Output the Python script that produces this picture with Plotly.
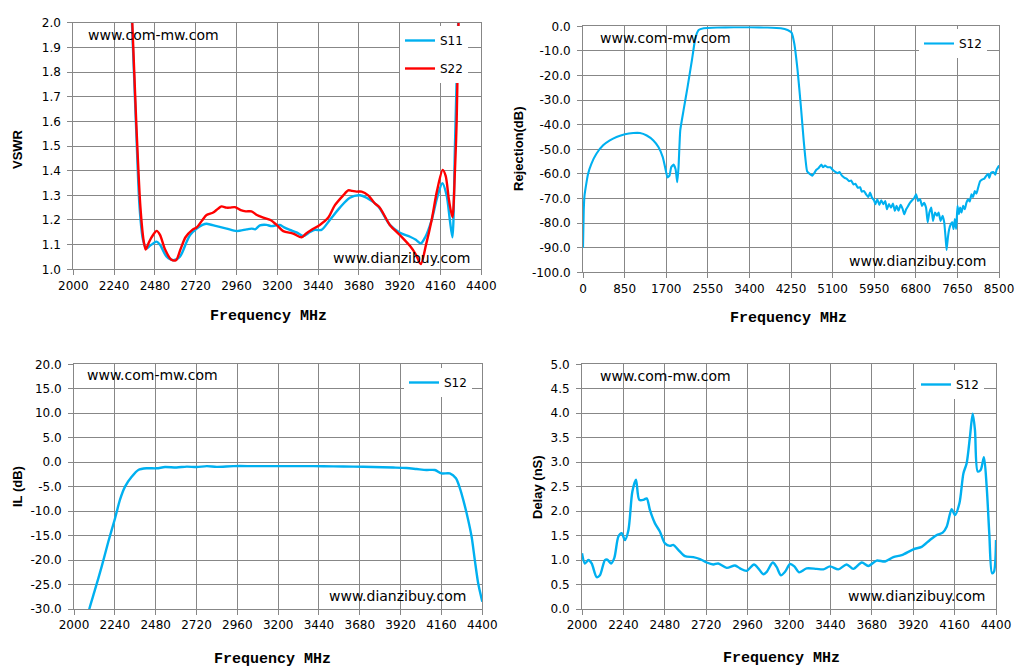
import plotly.graph_objects as go

# ---------------- data ----------------
# Top-left: VSWR
vswr_s11_f = [2330, 2345, 2368, 2390, 2410, 2430, 2450, 2470, 2490, 2510, 2549, 2588, 2627, 2667, 2687,
              2726, 2760, 2784, 2843, 2902, 2961, 3020, 3050, 3070, 3098, 3137, 3166, 3215, 3240, 3274,
              3313, 3352, 3390, 3421, 3460, 3509, 3568, 3627, 3686, 3725, 3794, 3862, 3922, 3981, 4015,
              4044, 4070, 4108, 4140, 4171, 4196, 4215, 4230, 4245, 4264, 4275]
vswr_s11 = [2.2, 2.0, 1.6, 1.25, 1.12, 1.085, 1.095, 1.105, 1.112, 1.1, 1.051, 1.037, 1.051, 1.112, 1.139,
            1.165, 1.18, 1.185, 1.175, 1.165, 1.155, 1.162, 1.165, 1.162, 1.178, 1.18, 1.175, 1.18, 1.17, 1.16,
            1.15, 1.135, 1.15, 1.16, 1.16, 1.2, 1.25, 1.29, 1.3, 1.29, 1.255, 1.18, 1.148, 1.132, 1.12,
            1.105, 1.13, 1.2, 1.29, 1.349, 1.3, 1.2, 1.13, 1.5, 2.0, 2.2]
vswr_s22_f = [2332, 2347, 2370, 2395, 2415, 2426, 2445, 2470, 2490, 2510, 2540, 2575, 2604, 2630, 2660,
              2700, 2726, 2760, 2784, 2823, 2850, 2872, 2900, 2921, 2951, 2985, 3015, 3048, 3080, 3117,
              3160, 3196, 3235, 3293, 3343, 3370, 3402, 3450, 3500, 3539, 3588, 3617, 3640, 3666, 3696,
              3735, 3770, 3803, 3862, 3922, 3981, 4015, 4044, 4075, 4108, 4140, 4173, 4190, 4210, 4230,
              4245, 4255, 4266, 4275]
vswr_s22 = [2.2, 2.0, 1.6, 1.25, 1.11, 1.08, 1.11, 1.14, 1.156, 1.14, 1.08, 1.04, 1.037, 1.08, 1.13,
            1.16, 1.17, 1.2, 1.22, 1.23, 1.245, 1.255, 1.25, 1.25, 1.252, 1.24, 1.235, 1.235, 1.22, 1.21,
            1.2, 1.18, 1.155, 1.145, 1.13, 1.145, 1.16, 1.18, 1.21, 1.26, 1.3, 1.32, 1.318, 1.315, 1.315,
            1.3, 1.27, 1.25, 1.18, 1.138, 1.094, 1.06, 1.021, 1.1, 1.2, 1.32, 1.403, 1.38, 1.28, 1.211,
            1.4, 1.6, 2.0, 2.2]

# Top-right: Rejection
rej_f = [0, 15, 30, 55, 103, 171, 274, 411, 548, 685, 856, 1028, 1165, 1302, 1438, 1541, 1630, 1678,
         1726, 1767, 1802, 1850, 1891, 1925, 1952, 1987, 2055, 2137, 2226, 2295, 2363, 2466, 2740, 3083,
         3425, 3768, 4042, 4179, 4261, 4316, 4384, 4453, 4511, 4579, 4633, 4687, 4728, 4768, 4816, 4870,
         4904, 4944, 4998, 5053, 5100, 5154, 5202, 5242, 5290, 5344, 5391, 5439, 5479, 5527, 5567, 5615,
         5662, 5696, 5743, 5784, 5831, 5865, 5906, 5947, 5974, 6014, 6055, 6095, 6136, 6177, 6210, 6251,
         6292, 6332, 6373, 6407, 6447, 6488, 6529, 6563, 6603, 6644, 6684, 6725, 6766, 6806, 6847, 6888,
         6928, 6969, 7009, 7043, 7077, 7117, 7151, 7192, 7233, 7266, 7307, 7348, 7381, 7408, 7429, 7456,
         7483, 7517, 7544, 7571, 7598, 7625, 7652, 7679, 7706, 7733, 7767, 7801, 7835, 7869, 7903, 7937,
         7971, 8005, 8039, 8073, 8113, 8154, 8201, 8235, 8275, 8302, 8336, 8384, 8424, 8451, 8492, 8500]
rej = [-90.0, -75.0, -69.0, -65.5, -60.0, -55.9, -51.8, -48.4, -46.4, -45.0, -43.9, -43.4, -43.4, -44.4,
       -46.4, -49.1, -53.2, -57.3, -61.4, -60.7, -57.3, -56.2, -58.0, -63.4, -57.3, -42.3, -34.1, -24.6,
       -13.7, -4.9, -1.5, -0.8, -0.5, -0.4, -0.4, -0.5, -0.8, -1.5, -2.6, -6.9, -17.8, -32.8, -46.8, -58.9,
       -60.0, -60.7, -59.6, -58.3, -57.6, -56.2, -57.3, -56.6, -57.3, -57.3, -58.3, -59.2, -59.7, -59.2,
       -60.7, -61.6, -62.0, -63.0, -62.7, -64.3, -64.0, -65.6, -65.4, -67.2, -67.0, -68.3, -69.4, -67.6,
       -69.7, -70.7, -72.3, -70.3, -72.6, -70.7, -72.3, -71.0, -74.4, -72.3, -73.7, -72.1, -75.0, -73.0,
       -75.0, -72.6, -74.1, -76.4, -74.4, -73.0, -71.7, -70.7, -69.9, -68.3, -71.0, -70.3, -73.0, -71.7,
       -73.7, -79.7, -75.7, -73.7, -79.1, -75.7, -77.0, -75.7, -79.1, -77.0, -79.7, -85.8, -90.9, -85.8,
       -82.4, -80.4, -79.7, -82.4, -78.4, -82.4, -73.0, -76.4, -73.7, -75.7, -73.0, -74.4, -71.7, -70.3,
       -71.2, -68.3, -69.4, -67.0, -68.0, -65.6, -63.0, -62.3, -61.9, -60.9, -60.0, -61.6, -59.6, -59.2,
       -60.3, -58.3, -56.9, -56.5]

# Bottom-left: Insertion loss
il_f = [2084, 2090, 2123, 2163, 2202, 2241, 2270, 2300, 2339, 2378, 2427, 2486, 2535, 2603, 2662, 2721,
        2780, 2839, 2937, 3054, 3172, 3289, 3407, 3524, 3642, 3759, 3877, 3955, 4014, 4072, 4121, 4160,
        4209, 4245, 4268, 4288, 4317, 4337, 4356, 4376, 4400]
il = [-31.0, -30.0, -26.1, -21.3, -16.2, -11.5, -7.7, -5.0, -3.0, -1.6, -1.25, -1.25, -1.0, -1.1, -0.9,
      -1.0, -0.8, -0.95, -0.8, -0.8, -0.8, -0.8, -0.8, -0.85, -0.9, -1.0, -1.1, -1.2, -1.4, -1.6, -1.6,
      -2.3, -2.3, -3.3, -5.3, -7.7, -11.8, -15.2, -20.0, -24.8, -28.5]

# Bottom-right: Group delay
dl_f = [2000, 2017, 2037, 2056, 2085, 2104, 2133, 2147, 2168, 2187, 2211, 2230, 2249, 2269, 2292, 2313,
        2332, 2356, 2375, 2394, 2423, 2452, 2481, 2510, 2529, 2558, 2597, 2645, 2684, 2723, 2761, 2790,
        2839, 2887, 2916, 2954, 2997, 3022, 3051, 3071, 3106, 3128, 3153, 3177, 3206, 3231, 3258, 3302,
        3360, 3399, 3438, 3486, 3534, 3573, 3622, 3660, 3708, 3757, 3805, 3853, 3921, 3969, 4017, 4056,
        4091, 4114, 4143, 4162, 4188, 4211, 4230, 4249, 4265, 4278, 4294, 4311, 4330, 4346, 4361, 4377,
        4388, 4400]
dl = [1.14, 0.93, 1.0, 0.93, 0.65, 0.69, 1.0, 1.01, 0.93, 1.04, 1.48, 1.55, 1.41, 1.61, 2.4, 2.64,
      2.23, 2.23, 2.26, 2.02, 1.75, 1.58, 1.34, 1.29, 1.31, 1.21, 1.08, 1.06, 1.02, 0.95, 0.91, 0.93,
      0.84, 0.89, 0.83, 0.78, 0.91, 0.83, 0.71, 0.76, 0.95, 0.86, 0.69, 0.76, 0.92, 0.87, 0.75, 0.83,
      0.82, 0.81, 0.87, 0.81, 0.91, 0.82, 0.95, 0.88, 0.99, 0.97, 1.06, 1.1, 1.22, 1.27, 1.41, 1.51,
      1.56, 1.68, 2.04, 1.92, 2.16, 2.77, 2.98, 3.52, 3.99, 3.66, 2.81, 2.84, 3.1, 2.5, 1.55, 0.73,
      0.76, 1.41]

# ticks
x_ticks_band = [2000, 2240, 2480, 2720, 2960, 3200, 3440, 3680, 3920, 4160, 4400]
x_ticks_wide = [0, 850, 1700, 2550, 3400, 4250, 5100, 5950, 6800, 7650, 8500]
y_ticks_vswr = [1.0, 1.1, 1.2, 1.3, 1.4, 1.5, 1.6, 1.7, 1.8, 1.9, 2.0]
y_ticks_rej = [0, -10, -20, -30, -40, -50, -60, -70, -80, -90, -100]
y_ticks_il = [20, 15, 10, 5, 0, -5, -10, -15, -20, -25, -30]
y_ticks_dl = [0, 0.5, 1.0, 1.5, 2.0, 2.5, 3.0, 3.5, 4.0, 4.5, 5.0]

# ---------------- figure ----------------
OFF = 8  # default page body margin
W, H = 1023 - OFF, 670 - OFF
BLUE = "#00B0F0"
RED = "#FF0000"
GRID = "#878787"
TICKFONT = dict(family="DejaVu Sans", size=12, color="black")


def px(x):
    return (x - OFF) / W


def py(y):
    return 1 - (y - OFF) / H


def fmt(vals):
    return [("%.1f" % v) for v in vals]


fig = go.Figure()

fig.add_trace(go.Scatter(x=vswr_s11_f, y=vswr_s11, name="S11", mode="lines",
                         line=dict(color=BLUE, width=2.4, shape="spline", smoothing=0.8),
                         xaxis="x", yaxis="y", legend="legend", legendgroup="a"))
fig.add_trace(go.Scatter(x=vswr_s22_f, y=vswr_s22, name="S22", mode="lines",
                         line=dict(color=RED, width=2.4, shape="spline", smoothing=0.8),
                         xaxis="x", yaxis="y", legend="legend", legendgroup="b"))
fig.add_trace(go.Scatter(x=rej_f, y=rej, name="S12", mode="lines",
                         line=dict(color=BLUE, width=2.1, shape="spline", smoothing=0.4),
                         xaxis="x2", yaxis="y2", legend="legend2"))
fig.add_trace(go.Scatter(x=il_f, y=il, name="S12", mode="lines",
                         line=dict(color=BLUE, width=2.4, shape="spline", smoothing=0.8),
                         xaxis="x3", yaxis="y3", legend="legend3"))
fig.add_trace(go.Scatter(x=dl_f, y=dl, name="S12", mode="lines",
                         line=dict(color=BLUE, width=2.4, shape="spline", smoothing=0.8),
                         xaxis="x4", yaxis="y4", legend="legend4"))


def xaxis(dom, anchor, rng, vals):
    return dict(domain=dom, anchor=anchor, range=rng, tickmode="array", tickvals=vals,
                ticktext=[str(v) for v in vals], showgrid=True, gridcolor=GRID, gridwidth=1,
                showline=True, linecolor=GRID, linewidth=1, mirror=True, ticks="outside",
                ticklen=5, tickcolor=GRID, zeroline=False, tickfont=TICKFONT, fixedrange=True,
                automargin=False)


def yaxis(dom, anchor, rng, vals):
    return dict(domain=dom, anchor=anchor, range=rng, tickmode="array", tickvals=vals,
                ticktext=fmt(vals), showgrid=True, gridcolor=GRID, gridwidth=1,
                showline=True, linecolor=GRID, linewidth=1, mirror=True, ticks="outside",
                ticklen=5, tickcolor=GRID, zeroline=False, tickfont=TICKFONT, fixedrange=True,
                ticklabelstandoff=4, automargin=False)


d1x = [px(73.3), px(481.3)]
d1y = [py(269.3), py(22.7)]
d2x = [px(583), px(999)]
d2y = [py(272.3), py(26.3)]
d3x = [px(74), px(482.3)]
d3y = [py(609), py(364.3)]
d4x = [px(582), px(996)]
d4y = [py(609), py(364.3)]

legend_common = dict(bgcolor="white", borderwidth=0, font=dict(family="DejaVu Sans", size=12, color="black"),
                     xanchor="left", yanchor="top", tracegroupgap=9, itemwidth=30)

fig.update_layout(
    width=W, height=H, margin=dict(l=0, r=0, t=0, b=0, pad=0, autoexpand=False),
    paper_bgcolor="white", plot_bgcolor="white",
    xaxis=xaxis(d1x, "y", [2000, 4400], x_ticks_band),
    yaxis=yaxis(d1y, "x", [1.0, 2.0], y_ticks_vswr),
    xaxis2=xaxis(d2x, "y2", [0, 8500], x_ticks_wide),
    yaxis2=yaxis(d2y, "x2", [-100, 0], y_ticks_rej),
    xaxis3=xaxis(d3x, "y3", [2000, 4400], x_ticks_band),
    yaxis3=yaxis(d3y, "x3", [-30, 20], y_ticks_il),
    xaxis4=xaxis(d4x, "y4", [2000, 4400], x_ticks_band),
    yaxis4=yaxis(d4y, "x4", [0, 5], y_ticks_dl),
    legend=dict(legend_common, x=px(400), y=py(26)),
    legend2=dict(legend_common, x=px(919), y=py(29)),
    legend3=dict(legend_common, x=px(404), y=py(368)),
    legend4=dict(legend_common, x=px(916), y=py(370)),
    showlegend=True,
)

ann = []
XT = dict(family="Liberation Mono", size=15, color="black")
YT = dict(family="Liberation Sans", size=13, color="black")
WM = dict(family="DejaVu Sans", size=14, color="black")

for (x, y) in [(268, 316), (788, 318), (272, 659), (781, 658)]:
    ann.append(dict(text="<b>Frequency MHz</b>", x=px(x), y=py(y), xref="paper", yref="paper",
                    showarrow=False, font=XT, xanchor="center", yanchor="middle"))
for (t, x, y) in [("VSWR", 17, 149), ("Rejection(dB)", 518, 149), ("IL (dB)", 17, 487), ("Delay (nS)", 537, 487)]:
    ann.append(dict(text="<b>%s</b>" % t, x=px(x), y=py(y), xref="paper", yref="paper", textangle=-90,
                    showarrow=False, font=YT, xanchor="center", yanchor="middle"))
for (x, y) in [(86, 35), (598, 38), (85, 375), (598, 376)]:
    ann.append(dict(text="www.com-mw.com", x=px(x), y=py(y), xref="paper", yref="paper",
                    showarrow=False, font=WM, xanchor="left", yanchor="middle"))
for (x, y) in [(472, 258), (988, 261), (468, 596), (987, 596)]:
    ann.append(dict(text="www.dianzibuy.com", x=px(x), y=py(y), xref="paper", yref="paper",
                    showarrow=False, font=WM, xanchor="right", yanchor="middle"))
fig.update_layout(annotations=ann)

fig.write_html("out.html")
